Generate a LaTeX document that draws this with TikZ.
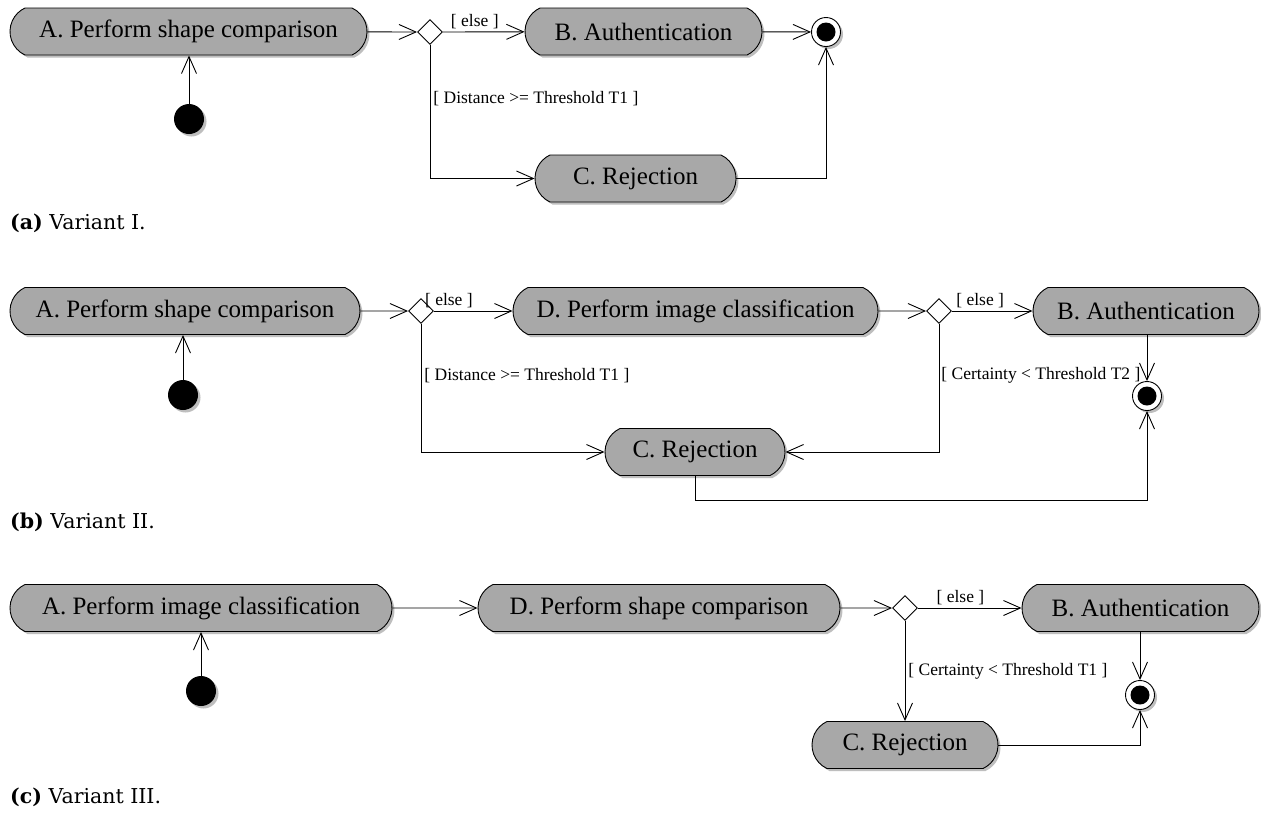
\documentclass[tikz,border=0pt]{standalone}
\usepackage{fontspec}
\setmainfont{Liberation Serif}
\newfontfamily\capfont{DejaVu Serif}
\usetikzlibrary{shapes.misc,shapes.geometric,arrows.meta,shadows}
\definecolor{actgray}{RGB}{168,168,168}
\definecolor{shgray}{RGB}{190,190,190}
\tikzset{
  shd/.style={drop shadow={shadow xshift=2.5pt,shadow yshift=-2.5pt,fill=shgray,opacity=1}},
  act/.style={rounded rectangle, rounded rectangle arc length=130, draw=black, line width=0.9pt,
    fill=actgray, minimum height=47pt, inner sep=0pt, font=\fontsize{25}{30}\selectfont, shd},
  dec/.style={diamond, draw=black, line width=0.9pt, fill=white, minimum size=25pt, inner sep=0pt, aspect=1},
  initn/.style={circle, fill=black, minimum size=30pt, inner sep=0pt, shd},
  finn/.style={circle, draw=black, line width=0.9pt, fill=white, minimum size=29pt, inner sep=0pt, shd,
    path picture={\fill[black] (path picture bounding box.center) circle (9.5pt);}},
  flow/.style={draw=black, line width=0.9pt, -{Straight Barb[length=17pt,width=15pt,line width=0.9pt]}},
  guard/.style={font=\fontsize{17.5}{21}\selectfont, inner sep=3pt},
  captxt/.style={anchor=base west, inner sep=0pt, font=\capfont\fontsize{20.5}{24}\selectfont}
}
\begin{document}
\begin{tikzpicture}[x=1pt,y=-1pt]
\useasboundingbox (0,0) rectangle (1261,815);
\fill[white] (0,0) rectangle (1261,815);

% ---------- (a) ----------
\node[act, minimum width=357pt] (A1) at (188.5,31.5) {A. Perform shape comparison};
\node[dec] (d1) at (430,32) {};
\node[act, minimum width=237pt] (B1) at (643.5,31.5) {B. Authentication};
\node[finn] (F1) at (826,32) {};
\node[initn] (I1) at (189,119) {};
\node[act, minimum width=201pt] (C1) at (635.5,178.5) {C. Rejection};
\draw[flow] (I1) -- (I1 |- A1.south);
\draw[flow] (A1) -- (d1.west);
\draw[flow] (d1.east) -- node[guard, pos=0.39, above] {[ else ]} (B1);
\draw[flow] (d1.south) |- node[guard, pos=0.2, anchor=west] {[ Distance >= Threshold T1 ]} (C1.west);
\draw[flow] (B1) -- (F1);
\draw[flow] (C1.east) -| (F1.south);
\node[captxt] (capa) at (10,229) {\textbf{(a)} Variant I.};

% ---------- (b) ----------
\node[act, minimum width=350pt] (A2) at (185,311) {A. Perform shape comparison};
\node[dec] (d2a) at (421,311) {};
\node[act, minimum width=365pt] (D2) at (695.5,311) {D. Perform image classification};
\node[dec] (d2b) at (939,311) {};
\node[act, minimum width=226pt] (B2) at (1146,311) {B. Authentication};
\node[finn] (F2) at (1147,396) {};
\node[initn] (I2) at (183,395) {};
\node[act, minimum width=180pt] (C2) at (695,452) {C. Rejection};
\draw[flow] (I2) -- (I2 |- A2.south);
\draw[flow] (A2) -- (d2a.west);
\draw[flow] (d2a.east) -- node[guard, pos=0.19, above] {[ else ]} (D2);
\draw[flow] (d2a.south) |- node[guard, pos=0.2, anchor=west] {[ Distance >= Threshold T1 ]} (C2.west);
\draw[flow] (D2) -- (d2b.west);
\draw[flow] (d2b.east) -- node[guard, pos=0.35, above] {[ else ]} (B2);
\draw[flow] (d2b.south) |- node[guard, pos=0.2, anchor=west, inner xsep=2pt] {[ Certainty < Threshold T2 ]} (C2.east);
\draw[flow] (B2.south -| F2) -- (F2.north);
\coordinate (c2low) at (695,500);
\draw[flow] (C2.south) -- (c2low) -| (F2.south);
\node[captxt] (capb) at (10,528) {\textbf{(b)} Variant II.};

% ---------- (c) ----------
\node[act, minimum width=382pt] (A3) at (201,608) {A. Perform image classification};
\node[act, minimum width=362pt] (D3) at (659,608) {D. Perform shape comparison};
\node[dec] (d3) at (905,608) {};
\node[act, minimum width=237pt] (B3) at (1140.5,608) {B. Authentication};
\node[finn] (F3) at (1140,695) {};
\node[initn] (I3) at (201,691) {};
\node[act, minimum width=186pt] (C3) at (905,745) {C. Rejection};
\draw[flow] (I3) -- (I3 |- A3.south);
\draw[flow] (A3) -- (D3);
\draw[flow] (D3) -- (d3.west);
\draw[flow] (d3.east) -- node[guard, pos=0.41, above] {[ else ]} (B3);
\draw[flow] (d3.south) -- node[guard, pos=0.5, anchor=west] {[ Certainty < Threshold T1 ]} (C3.north);
\draw[flow] (B3.south -| F3) -- (F3.north);
\draw[flow] (C3.east) -| (F3.south);
\node[captxt] (capc) at (10,803) {\textbf{(c)} Variant III.};
\end{tikzpicture}
\end{document}
